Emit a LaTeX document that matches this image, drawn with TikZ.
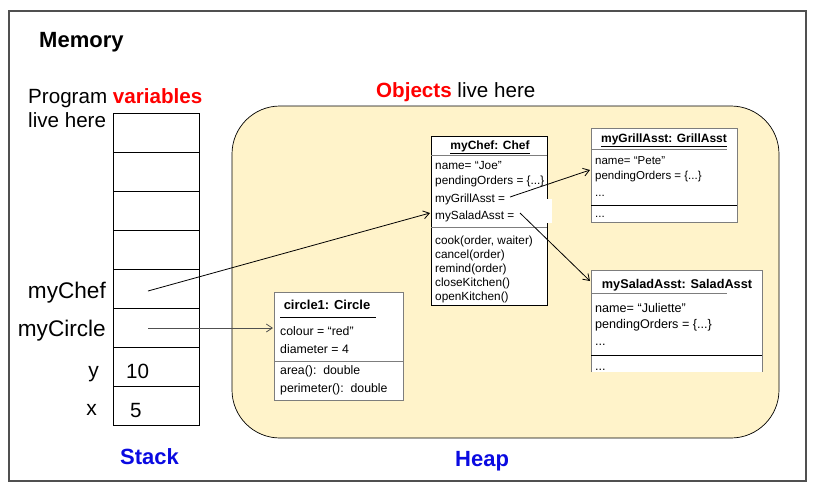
\documentclass[tikz,border=0pt]{standalone}
\usepackage{fontspec}
\setmainfont{Liberation Sans}
\usetikzlibrary{arrows.meta}
\definecolor{heapfill}{RGB}{255,243,202}
\definecolor{hred}{RGB}{255,0,0}
\definecolor{hblue}{RGB}{10,10,225}
\definecolor{boxgray}{RGB}{125,125,125}
\definecolor{framegray}{RGB}{80,80,80}
\begin{document}
\begin{tikzpicture}[x=1pt,y=-1pt,
  big/.style={font=\fontsize{20.6}{24}\selectfont, inner sep=0pt, anchor=base west},
  bigr/.style={font=\fontsize{#1}{24}\selectfont, inner sep=0pt, anchor=base east},
  title/.style={font=\fontsize{22}{26}\selectfont\bfseries, inner sep=0pt, anchor=base west},
  cell/.style={draw=black, line width=0.9pt, minimum width=86pt, minimum height=39.1pt, inner sep=0pt, fill=white},
  objbox/.style={draw=#1, line width=0.9pt, fill=white, inner sep=0pt, anchor=north west},
  chefsm/.style={font=\fontsize{11.8}{13}\selectfont, inner sep=0pt, anchor=base west},
  grillsm/.style={font=\fontsize{11.5}{13}\selectfont, inner sep=0pt, anchor=base west},
  saladsm/.style={font=\fontsize{12.6}{14}\selectfont, inner sep=0pt, anchor=base west},
  circsm/.style={font=\fontsize{12.3}{14}\selectfont, inner sep=0pt, anchor=base west},
  hdr/.style={font=\fontsize{#1}{14}\selectfont\bfseries, inner sep=0pt, anchor=base},
  ptr/.style={line width=0.8pt, -{Straight Barb[length=6pt,width=8pt]}}
]
\useasboundingbox (0,0) rectangle (813,491);
% outer frame
\draw[framegray, line width=1.3pt] (9,11) rectangle (806,481);
\node[title] (memory) at (39,47) {Memory};
\node[big] (prog) at (28,103) {Program \textcolor{hred}{\bfseries variables}};
\node[big] (livehere) at (28,127) {live here};
\node[big] (objects) at (376,97) {\textcolor{hred}{\bfseries Objects} live here};
% heap
\draw[black, line width=0.7pt, fill=heapfill, rounded corners=48pt] (232,106) rectangle (779,438);
\node[title, text=hblue] (heaplbl) at (455,466) {Heap};
% stack
\foreach \i in {1,...,8} {
  \node[cell] (s\i) at (156, {113+39.1*(\i-0.5)}) {};
}
\node[title, anchor=base, text=hblue] (stacklbl) at (149.5,464) {Stack};
\node[bigr=22.6] (lchef) at (106,298) {myChef};
\node[bigr=22.6] (lcircle) at (106,336) {myCircle};
\node[bigr=21] (ly) at (99,377) {y};
\node[bigr=21] (lx) at (97,415) {x};
\node[big] (v10) at (126,378) {10};
\node[big] (v5) at (130,417) {5};
% chef box
\node[objbox=black, minimum width=116pt, minimum height=169pt] (chef) at (431,136) {};
\fill[white] (545,199) rectangle (552,223);
\node[hdr=12] (chefh) at (490,149) {\underline{myChef: Chef}};
\draw[boxgray, line width=0.8pt] (431,155) -- (547,155);
\draw[boxgray, line width=0.8pt] (431,227) -- (547,227);
\node[chefsm] (c1) at (435,169) {name= “Joe”};
\node[chefsm] (c2) at (435,184) {pendingOrders = \{...\}};
\node[chefsm] (c3) at (435,202) {myGrillAsst =};
\node[chefsm] (c4) at (435,219) {mySaladAsst =};
\node[chefsm] (m1) at (435,244) {cook(order, waiter)};
\node[chefsm] (m2) at (435,258) {cancel(order)};
\node[chefsm] (m3) at (435,272) {remind(order)};
\node[chefsm] (m4) at (435,286) {closeKitchen()};
\node[chefsm] (m5) at (435,300) {openKitchen()};
% grill box
\node[objbox=boxgray, minimum width=146pt, minimum height=94pt] (grill) at (591,128) {};
\node[hdr=12] (grillh) at (664,142) {\underline{myGrillAsst: GrillAsst}};
\draw[boxgray, line width=0.8pt] (591,149) -- (727,149);
\draw[black, line width=0.8pt] (591,205) -- (737,205);
\node[grillsm] (g1) at (595,164) {name= “Pete”};
\node[grillsm] (g2) at (595,179) {pendingOrders = \{...\}};
\node[grillsm] (g3) at (595,196) {...};
\node[grillsm] (g4) at (595,217) {...};
% salad box (open bottom)
\node[inner sep=0pt, minimum width=171pt, minimum height=102pt, anchor=north west] (salad) at (591,270) {};
\fill[white] (591,270) rectangle (762,372);
\draw[boxgray, line width=0.9pt] (591,372) -- (591,270) -- (762,270) -- (762,372);
\node[hdr=12.7] (saladh) at (677,288) {mySaladAsst: SaladAsst};
\draw[boxgray, line width=0.8pt] (591,293) -- (727,293);
\draw[black, line width=0.8pt] (591,355) -- (762,355);
\node[saladsm] (d1) at (595,312) {name= “Juliette”};
\node[saladsm] (d2) at (595,328) {pendingOrders = \{...\}};
\node[saladsm] (d3) at (595,345) {...};
\node[saladsm] (d4) at (595,370) {...};
% circle box
\node[objbox=boxgray, minimum width=129pt, minimum height=108pt] (circ) at (274,292) {};
\node[hdr=13] (circh) at (327,309) {circle1: Circle};
\draw[black, line width=0.8pt] (280,317) -- (376,317);
\draw[boxgray, line width=0.8pt] (274,361) -- (403,361);
\node[circsm] (o1) at (280,335) {colour = “red”};
\node[circsm] (o2) at (280,353) {diameter = 4};
\node[circsm] (o3) at (280,374) {area():\ \ double};
\node[circsm] (o4) at (280,392) {perimeter():\ \ double};
% pointers
\coordinate (pchef) at (148,291);
\coordinate (pcirc) at (148,328);
\coordinate (pgrill) at (510,197);
\coordinate (psalad) at (520,213);
\coordinate (inchef) at (430,213);
\coordinate (incirc) at (273,328);
\coordinate (ingrill) at (590,170);
\coordinate (insalad) at (590,281);
\draw[ptr] (pchef) -- (inchef);
\draw[ptr, draw=framegray] (pcirc) -- (incirc);
\draw[ptr] (pgrill) -- (ingrill);
\draw[ptr] (psalad) -- (insalad);
\end{tikzpicture}
\end{document}
